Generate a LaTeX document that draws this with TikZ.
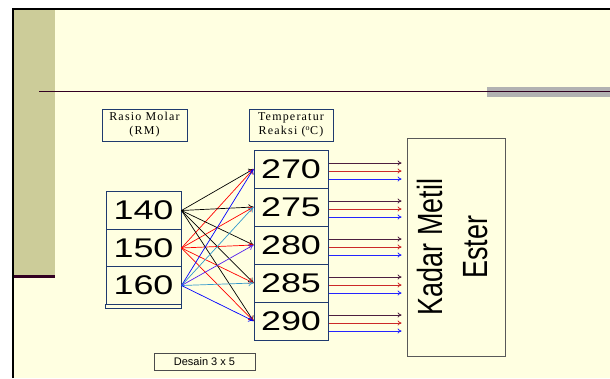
\documentclass[tikz,border=0pt]{standalone}
\usepackage{fontspec}
\setmainfont{Liberation Serif}
\setsansfont{Liberation Sans}
\newfontfamily\spacedserif[LetterSpace=10]{Liberation Serif}
\usetikzlibrary{arrows.meta}
\usetikzlibrary{calc}
\usepackage{xcolor}
\definecolor{slide}{HTML}{FFFFE1}
\definecolor{bandolive}{HTML}{CCCC99}
\definecolor{slideline}{HTML}{330022}
\definecolor{bargray}{HTML}{B2B2B2}
\definecolor{boxblue}{HTML}{1F3A6E}
\definecolor{steel}{HTML}{3399CC}
\definecolor{arrviolet}{HTML}{5522EE}
\definecolor{darkplum}{HTML}{4D1F40}
\definecolor{outred}{HTML}{CC2929}
\definecolor{outblue}{HTML}{2424FF}

\begin{document}
\begin{tikzpicture}[x=1pt,y=-1pt,
    numbox/.style={draw=boxblue,line width=1pt,fill=slide,minimum width=75pt,minimum height=37.5pt,inner sep=0pt,font=\sffamily\fontsize{27}{27}\selectfont},
    headbox/.style={draw=boxblue,line width=0.8pt,minimum width=85pt,minimum height=32pt,inner sep=0pt,align=center,font={\spacedserif\fontsize{12}{14}\selectfont}},
    link/.style={-{To[length=5pt,width=6pt]},line width=0.7pt},
    outlink/.style={-{To[length=4pt,width=5pt]},line width=0.8pt}]
    \useasboundingbox (0,0) rectangle (610,378);

    % slide background
    \fill[white] (0,0) rectangle (610,378);
    \fill[slide] (12,8) rectangle (610,378);
    \fill[bandolive] (14,10) rectangle (55,275);
    \fill[slideline] (14,275) rectangle (55,277.5);
    \draw[line width=2pt] (13,378) -- (13,9) -- (610,9);
    \fill[bargray] (487,87) rectangle (610,97);
    \draw[slideline,line width=0.8pt] (39,91) -- (610,91);

    \node[headbox] (rm) at (144.5,125) {Rasio Molar\\(RM)};
    \node[headbox,minimum width=84pt] (suhu) at (291,125) {Temperatur\\Reaksi (\textsuperscript{o}C)};

    \foreach \r [count=\i] in {140,150,160}
      \node[numbox] (rm\r) at (143.5,173+37.5*\i) {\scalebox{1.33}[1]{\r}};
    \draw[boxblue,line width=1pt] (rm160.south west) rectangle ($(rm160.south east)+(0,4)$);

    \foreach \t [count=\i] in {270,275,280,285,290}
      \node[numbox,minimum width=74pt,minimum height=38pt] (t\t) at (291,131+38*\i) {\scalebox{1.33}[1]{\t}};

    \node[draw=black!65,line width=0.8pt,minimum width=98pt,minimum height=218pt,inner sep=0pt] (kadar) at (456,247) {};
    \node[rotate=90,inner sep=0pt,font=\sffamily\fontsize{35}{45}\selectfont] (kadartext) at (kadar.center)
      {\scalebox{0.77}[1]{\begin{tabular}{@{}c@{}}Kadar Metil\\Ester\end{tabular}}};

    \node[draw=black!70,line width=0.8pt,minimum width=101pt,minimum height=17pt,inner sep=0pt,font=\sffamily\fontsize{11}{11}\selectfont] (desain) at (204.5,361.5) {Desain 3 x 5};

    % rasio molar -> temperatur
    \foreach \t in {270,275,280,285,290} {
      \draw[link,black] (rm140.east) -- (t\t.west);
      \draw[link,red] (rm150.east) -- (t\t.west);
    }
    \foreach \t/\c in {270/blue,275/steel,280/arrviolet,285/steel,290/blue}
      \draw[link,\c] (rm160.east) -- (t\t.west);

    % temperatur -> kadar metil ester
    \foreach \t in {270,275,280,285,290}
      \foreach \dy/\c in {-6/darkplum,2/outred,10/outblue}
        \draw[outlink,\c] ($(t\t.east)+(0,\dy)$) -- ($(kadar.west |- t\t.east)+(-5,\dy)$);
  \end{tikzpicture}
\end{document}
